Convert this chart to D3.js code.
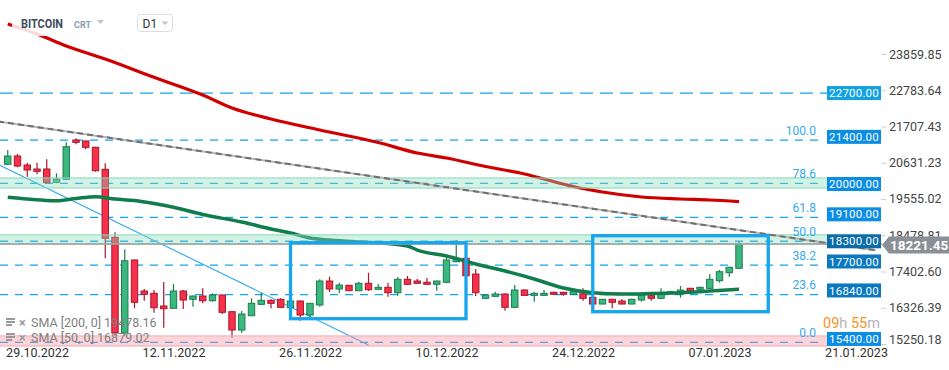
<!DOCTYPE html>
<html>
<head>
<meta charset="utf-8">
<script src="https://cdn.jsdelivr.net/npm/d3@7"></script>
<style>
  body { margin: 0; background: #fff; }
  svg { display: block; font-family: Roboto, "Noto Sans", sans-serif; }
</style>
</head>
<body>
<svg id="chart" width="949" height="370"></svg>
<script>
// daily candles, first one on 26.10.2022
var startDay = "2022-10-26";
var opens  = [20585,20831,20564,20445,20445,20051,20140,21306,21277,21090,20437,18418,15576,17744,16823,16755,16378,16310,16823,16577,
              16675,16535,16704,16209,15665,16090,16428,16547,16577,16327,16526,16111,16408,17120,16883,16992,16832,17052,16874,16933,
              16773,17171,17120,17082,17022,17082,17693,17794,17328,16606,16666,16734,16339,16853,16695,16695,16785,16785,16725,16740,
              16636,16437,16577,16526,16437,16556,16684,16606,16755,16734,16903,16874,16903,17129,17366,17497];
var highs  = [21010,20891,20633,20633,20733,20318,21238,21357,21290,21108,20615,18566,18061,17760,16883,16853,17090,17031,16853,16690,
              16903,16755,16720,16220,16229,16606,16773,16577,16606,16540,16540,16470,17171,17248,17070,17010,17099,17366,17031,17070,
              17239,17269,17179,17209,17130,17892,18337,17820,17476,16720,16802,16750,17001,16870,16802,16853,16800,16800,16815,16903,
              16650,16590,16590,16585,16590,16720,16700,16903,16832,16972,16920,16950,17328,17447,17540,18287];
var lows   = [20570,20496,20217,20288,20030,20021,20120,21179,21030,20365,17794,15487,15487,16310,16535,16179,15734,16300,16289,16357,
              16458,16506,16140,15437,15585,16080,16408,16310,16330,16310,15941,16042,16357,16794,16755,16820,16820,16823,16862,16654,
              16684,17000,17040,17010,16832,17052,17680,17270,16675,16590,16645,16238,16330,16680,16506,16680,16715,16684,16715,16535,
              16430,16430,16310,16430,16430,16506,16535,16590,16745,16624,16820,16860,16890,17070,17248,17480];
var closes = [20831,20534,20416,20377,20039,20148,21108,21238,21090,20395,18388,15576,17723,16488,16725,16327,16298,16823,16556,16675,
              16535,16704,16191,15665,16140,16458,16547,16458,16339,16526,16111,16458,17120,16883,17001,16832,17052,16862,16933,16773,
              17171,17022,17052,17022,17120,17744,17794,17277,16773,16704,16734,16339,16853,16695,16755,16755,16725,16725,16802,16606,
              16437,16577,16488,16437,16577,16704,16606,16773,16802,16853,16832,16933,17171,17396,17527,18221.45];

// moving averages, read at some candle indexes
var sma200Days = [0,3,6,10,15,20,23,27,32,38,42,45,49,53,55,58,61,65,69,72,75];
var sma200 = [24750,24454,24097,23711,23168,22642,22256,21930,21603,21232,20920,20772,20520,20297,20148,19926,19763,19614,19555,19525,19478.16];
var sma50Days = [0,2,5,7,9,11,13,15,17,20,24,27,29,31,33,36,39,41,42,45,48,51,54,57,60,63,66,69,72,75];
var sma50 = [19605,19555,19504,19570,19623,19555,19510,19421,19308,19094,18872,18664,18545,18397,18337,18278,18233,18159,18040,17862,
             17625,17417,17179,16912,16773,16734,16749,16773,16823,16879.02];

var xTickLabels = ["29.10.2022","12.11.2022","26.11.2022","10.12.2022","24.12.2022","07.01.2023","21.01.2023"];
var yTicks = [23859.85,22783.64,21707.43,20631.23,19555.02,18478.81,17402.60,16326.39,15250.18];

var levels = [22700,21400,20000,19100,18300,17700,16840,15400];
var fibLow = 15300, fibHigh = 21300;
var fibRatios = [100,78.6,61.8,50,38.2,23.6,0];
var zoneLows  = [19880,18220,15190];
var zoneHighs = [20180,18490,15490];
var lastPrice = 18221.45;

var grayTrendDates = ["2022-10-25","2023-01-23"], grayTrendValues = [21860,18035];
var blueTrendDates = ["2022-10-25","2022-12-02"], blueTrendValues = [20585,15217];
var boxStarts = ["2022-11-24","2022-12-25"], boxEnds = ["2022-12-12","2023-01-12"];
var boxTops = [18257,18465], boxBottoms = [16001,16209];

var svg = d3.select("#chart");
var parseDay = d3.utcParse("%Y-%m-%d"),
    parseTick = d3.utcParse("%d.%m.%Y");
var day0 = parseDay(startDay);
var dates = opens.map(function(d, i) { return d3.utcDay.offset(day0, i); });
var tickDates = xTickLabels.map(parseTick);

var x = d3.scaleUtc()
    .domain([tickDates[0], tickDates[tickDates.length - 1]])
    .range([37, 856]);
var y = d3.scaleLinear()
    .domain([yTicks[yTicks.length - 1], yTicks[0]])
    .range([344, 54]);

var plotRight = 827;

svg.append("defs").append("clipPath").attr("id", "plotclip")
  .append("rect").attr("x", 0).attr("y", 0).attr("width", plotRight).attr("height", 348);

var g = svg.append("g").attr("clip-path", "url(#plotclip)");

// horizontal level 22700
g.append("line")
    .attr("x1", 0).attr("x2", plotRight)
    .attr("y1", y(levels[0])).attr("y2", y(levels[0]))
    .attr("stroke", "#13a4ec").attr("stroke-width", 1.3)
    .attr("stroke-dasharray", "13,7");

// fibonacci lines
g.selectAll(".fib")
  .data(fibRatios)
  .enter().append("line")
    .attr("class", "fib")
    .attr("x1", 0).attr("x2", 820)
    .attr("y1", function(d) { return y(fibLow + d / 100 * (fibHigh - fibLow)); })
    .attr("y2", function(d) { return y(fibLow + d / 100 * (fibHigh - fibLow)); })
    .attr("stroke", "#13a4ec").attr("stroke-width", 1.3)
    .attr("stroke-dasharray", "8,7");

// trend lines
svg.append("line")
    .attr("x1", x(parseDay(grayTrendDates[0]))).attr("y1", y(grayTrendValues[0]))
    .attr("x2", x(parseDay(grayTrendDates[1]))).attr("y2", y(grayTrendValues[1]))
    .attr("stroke", "#b5b5b5").attr("stroke-width", 2);
svg.append("line")
    .attr("x1", x(parseDay(grayTrendDates[0]))).attr("y1", y(grayTrendValues[0]))
    .attr("x2", x(parseDay(grayTrendDates[1]))).attr("y2", y(grayTrendValues[1]))
    .attr("stroke", "#6f6f6f").attr("stroke-width", 2)
    .attr("stroke-dasharray", "6,4");

g.append("line")
    .attr("x1", x(parseDay(blueTrendDates[0]))).attr("y1", y(blueTrendValues[0]))
    .attr("x2", x(parseDay(blueTrendDates[1]))).attr("y2", y(blueTrendValues[1]))
    .attr("stroke", "#2aa8f2").attr("stroke-width", 1.1);

// last price line
svg.append("line")
    .attr("x1", 0).attr("x2", 882)
    .attr("y1", y(lastPrice)).attr("y2", y(lastPrice))
    .attr("stroke", "#9c9c9c").attr("stroke-width", 1.5);

// candles
var candle = g.selectAll(".candle")
  .data(dates)
  .enter().append("g")
    .attr("class", "candle");

candle.append("line")
    .attr("x1", function(d) { return x(d); })
    .attr("x2", function(d) { return x(d); })
    .attr("y1", function(d, i) { return y(highs[i]); })
    .attr("y2", function(d, i) { return y(lows[i]); })
    .attr("stroke", function(d, i) { return closes[i] >= opens[i] ? "#1e7b4e" : "#a8142a"; })
    .attr("stroke-width", 1.2);

candle.append("rect")
    .attr("x", function(d) { return x(d) - 3.2; })
    .attr("width", 6.4)
    .attr("y", function(d, i) { return y(Math.max(opens[i], closes[i])); })
    .attr("height", function(d, i) { return Math.max(1.5, Math.abs(y(opens[i]) - y(closes[i]))); })
    .attr("fill", function(d, i) { return closes[i] >= opens[i] ? "#3bb87f" : "#f7314a"; })
    .attr("stroke", function(d, i) { return closes[i] >= opens[i] ? "#1e7b4e" : "#a8142a"; })
    .attr("stroke-width", 1);

// moving averages
var line = d3.line()
    .x(function(d) { return x(d3.utcDay.offset(day0, d[0])); })
    .y(function(d) { return y(d[1]); })
    .curve(d3.curveMonotoneX);

g.append("path")
    .datum(sma200Days.map(function(d, i) { return [d, sma200[i]]; }))
    .attr("d", line)
    .attr("fill", "none").attr("stroke", "#d10000").attr("stroke-width", 3.2);

g.append("path")
    .datum(sma50Days.map(function(d, i) { return [d, sma50[i]]; }))
    .attr("d", line)
    .attr("fill", "none").attr("stroke", "#0f7d4c").attr("stroke-width", 3.5);

// legend
var legend = svg.append("g").attr("fill", "#808080").style("font-size", "12.5px");
[["SMA [200, 0] 19478.16", 327], ["SMA [50, 0] 16879.02", 342]].forEach(function(r) {
  legend.append("rect").attr("x", 6).attr("y", r[1] - 9).attr("width", 9).attr("height", 2).attr("fill", "#999");
  legend.append("rect").attr("x", 6).attr("y", r[1] - 6).attr("width", 9).attr("height", 2).attr("fill", "#999");
  legend.append("rect").attr("x", 6).attr("y", r[1] - 3).attr("width", 6).attr("height", 2).attr("fill", "#999");
  legend.append("text").attr("x", 19).attr("y", r[1]).attr("fill", "#999")
      .style("font-weight", "bold").text("\u00d7");
  legend.append("text").attr("x", 31).attr("y", r[1]).text(r[0]);
});

// zones (drawn on top, translucent)
var zoneFill = ["#8cdcbe", "#8cdcbe", "#f4919d"],
    zoneLine = ["#86d8b8", "#86d8b8", "#f2a7b0"];
zoneLows.forEach(function(lo, i) {
  g.append("rect")
      .attr("x", 0).attr("width", plotRight)
      .attr("y", y(zoneHighs[i])).attr("height", y(lo) - y(zoneHighs[i]))
      .attr("fill", zoneFill[i]).attr("fill-opacity", 0.38);
  [lo, zoneHighs[i]].forEach(function(v) {
    g.append("line")
        .attr("x1", 0).attr("x2", plotRight)
        .attr("y1", y(v)).attr("y2", y(v))
        .attr("stroke", zoneLine[i]).attr("stroke-width", 1);
  });
});

// rectangles
boxStarts.forEach(function(s, i) {
  svg.append("rect")
      .attr("x", x(parseDay(s)))
      .attr("y", y(boxTops[i]))
      .attr("width", x(parseDay(boxEnds[i])) - x(parseDay(s)))
      .attr("height", y(boxBottoms[i]) - y(boxTops[i]))
      .attr("fill", "none").attr("stroke", "#17a5eb").attr("stroke-width", 3.3);
});

// fib labels
svg.selectAll(".fiblabel")
  .data(fibRatios)
  .enter().append("text")
    .attr("class", "fiblabel")
    .attr("x", 816)
    .attr("y", function(d) { return y(fibLow + d / 100 * (fibHigh - fibLow)) - 9.5; })
    .attr("dy", "0.35em")
    .attr("text-anchor", "end")
    .attr("fill", "#34a9ef")
    .style("font-size", "12px")
    .text(function(d) { return d3.format(".1f")(d); });

// right axis
var yAxis = svg.append("g")
    .attr("transform", "translate(881,0)")
    .call(d3.axisRight(y).tickValues(yTicks).tickSize(5).tickPadding(3).tickFormat(d3.format(".2f")));
yAxis.select(".domain").remove();
yAxis.selectAll(".tick line").attr("stroke", "#d0d0d0");
yAxis.selectAll(".tick text")
    .attr("fill", "#444")
    .style("font-size", "12.5px")
    .style("font-family", "Roboto, sans-serif")
    .attr("dy", function(d, i) { return i === yTicks.length - 1 ? "-0.05em" : "0.32em"; });

// level labels
var levelColors = ["#12a2e4", "#0b8de6", "#0b8de6", "#0b8de6", "#0a6ca9", "#0b79bf", "#0b79bf", "#0b8de6"];
var lv = svg.selectAll(".level")
  .data(levels)
  .enter().append("g")
    .attr("class", "level")
    .attr("transform", function(d) { return "translate(827," + y(d) + ")"; });
lv.append("rect")
    .attr("x", 0).attr("y", -7).attr("width", 54).attr("height", 14)
    .attr("fill", function(d, i) { return levelColors[i]; });
lv.append("text")
    .attr("x", 27).attr("dy", "0.36em")
    .attr("text-anchor", "middle")
    .attr("fill", "#fff")
    .style("font-size", "11.5px")
    .style("letter-spacing", "0.2px")
    .text(function(d) { return d3.format(".2f")(d); });

// last price tag
var py = y(lastPrice) + 1;
svg.append("path")
    .attr("d", "M882," + py + "L889," + (py - 8.5) + "L949," + (py - 8.5) + "L949," + (py + 8.5) + "L889," + (py + 8.5) + "Z")
    .attr("fill", "#8a9095");
svg.append("text")
    .attr("x", 890).attr("y", py).attr("dy", "0.36em")
    .attr("fill", "#fff")
    .style("font-size", "13.5px").style("font-weight", "bold")
    .text(d3.format(".2f")(lastPrice));

// countdown
var cd = svg.append("text").attr("x", 823).attr("y", 328).style("font-size", "14.5px");
cd.append("tspan").attr("fill", "#f7931e").text("09");
cd.append("tspan").attr("fill", "#b4b4b4").text("h ");
cd.append("tspan").attr("fill", "#f7931e").text("55");
cd.append("tspan").attr("fill", "#b4b4b4").text("m");

// bottom axis
var xAxis = svg.append("g")
    .attr("transform", "translate(0,348.5)")
    .call(d3.axisBottom(x).tickValues(tickDates).tickSize(0).tickPadding(0).tickFormat(d3.utcFormat("%d.%m.%Y")));
xAxis.select(".domain").remove();
xAxis.selectAll(".tick text")
    .attr("fill", "#333")
    .style("font-size", "12.5px")
    .style("font-family", "Roboto, sans-serif");

// header
svg.append("rect").attr("x", 12).attr("y", 9).attr("width", 168).attr("height", 27)
    .attr("fill", "#fff").attr("fill-opacity", 0.85);
svg.append("text").attr("x", 21).attr("y", 28)
    .attr("fill", "#3d4b5c").style("font-size", "12px").style("font-weight", "bold")
    .attr("textLength", 42).attr("lengthAdjust", "spacingAndGlyphs")
    .text("BITCOIN");
svg.append("text").attr("x", 74).attr("y", 28)
    .attr("fill", "#8c9bab").style("font-size", "9px").style("font-weight", "bold")
    .text("CRT");
svg.append("path").attr("d", "M97,20L104,20L100.5,24Z").attr("fill", "#c4c4c4");
svg.append("rect").attr("x", 137.5).attr("y", 14.5).attr("width", 35).attr("height", 17).attr("rx", 3)
    .attr("fill", "#fff").attr("stroke", "#dcdcdc");
svg.append("text").attr("x", 142.5).attr("y", 27.5)
    .attr("fill", "#333").style("font-size", "12px")
    .text("D1");
svg.append("path").attr("d", "M161.5,21.5L168.5,21.5L165,25Z").attr("fill", "#c4c4c4");
</script>
</body>
</html>
